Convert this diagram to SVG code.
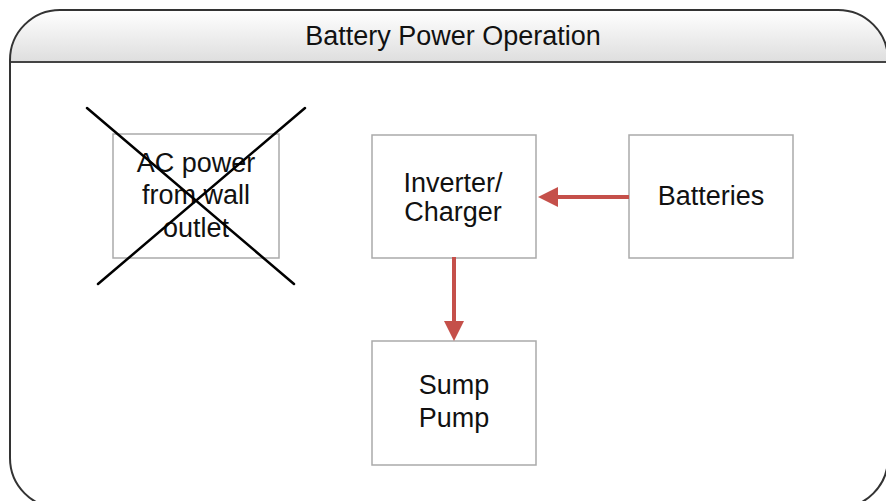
<svg xmlns="http://www.w3.org/2000/svg" width="886" height="501" viewBox="0 0 886 501">
  <defs>
    <linearGradient id="hdr" x1="0" y1="0" x2="0" y2="1">
      <stop offset="0" stop-color="#ffffff"/>
      <stop offset="1" stop-color="#dedede"/>
    </linearGradient>
    <marker id="arr" viewBox="0 0 20 20" refX="0" refY="10" markerWidth="20" markerHeight="20" markerUnits="userSpaceOnUse" orient="auto">
      <path d="M0,0 L20,10 L0,20 Z" fill="#c5504a"/>
    </marker>
    <clipPath id="frameClip">
      <rect x="10" y="10" width="878" height="498" rx="50" ry="50"/>
    </clipPath>
  </defs>
  <style>
    .box { fill: #ffffff; stroke: #aaaaaa; stroke-width: 1.5; }
    .lbl { font-family: "Liberation Sans", Arial, Helvetica, sans-serif; font-size: 27px; fill: #111111; text-anchor: middle; }
    .title { font-family: "Liberation Sans", Arial, Helvetica, sans-serif; font-size: 27px; fill: #111111; text-anchor: middle; }
    .conn { stroke: #c5504a; stroke-width: 4; fill: none; }
    .cross { stroke: #000000; stroke-width: 2.5; stroke-linecap: round; }
  </style>

  <g id="frame">
    <rect x="10" y="10" width="878" height="498" rx="50" ry="50" fill="#ffffff"/>
    <rect x="10" y="10" width="878" height="52" fill="url(#hdr)" clip-path="url(#frameClip)"/>
    <line x1="10" y1="62" x2="888" y2="62" stroke="#444444" stroke-width="2"/>
    <rect x="10" y="10" width="878" height="498" rx="50" ry="50" fill="none" stroke="#333333" stroke-width="2"/>
    <text class="title" x="453" y="45">Battery Power Operation</text>
  </g>

  <g id="ac-power">
    <rect class="box" x="113" y="134" width="166" height="124"/>
    <text class="lbl" x="196" y="172">AC power</text>
    <text class="lbl" x="196" y="204">from wall</text>
    <text class="lbl" x="196" y="237">outlet</text>
    <line class="cross" x1="87" y1="108" x2="294" y2="284"/>
    <line class="cross" x1="305" y1="108" x2="98" y2="284"/>
  </g>

  <g id="inverter">
    <rect class="box" x="372" y="135" width="164" height="123"/>
    <text class="lbl" x="453" y="192">Inverter/</text>
    <text class="lbl" x="453" y="221">Charger</text>
  </g>

  <g id="batteries">
    <rect class="box" x="629" y="135" width="164" height="123"/>
    <text class="lbl" x="711" y="205">Batteries</text>
  </g>

  <g id="sump-pump">
    <rect class="box" x="372" y="341" width="164" height="124"/>
    <text class="lbl" x="454" y="394">Sump</text>
    <text class="lbl" x="454" y="427">Pump</text>
  </g>

  <g id="connectors">
    <line class="conn" x1="629" y1="197" x2="558" y2="197" marker-end="url(#arr)"/>
    <line class="conn" x1="454" y1="257" x2="454" y2="321" marker-end="url(#arr)"/>
  </g>
</svg>
